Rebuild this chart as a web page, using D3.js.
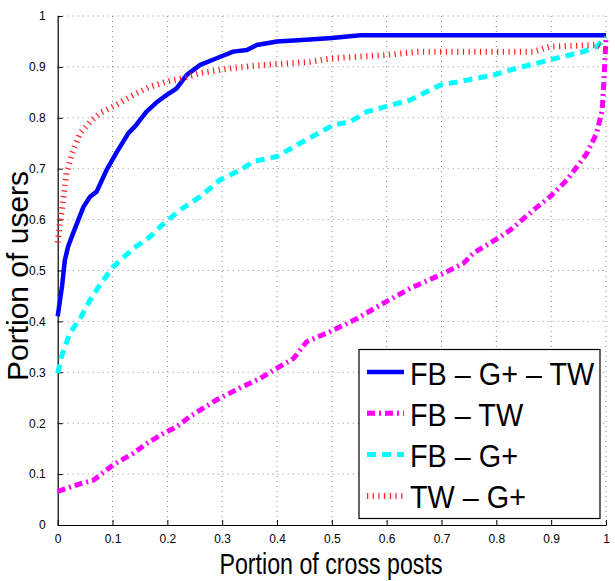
<!DOCTYPE html>
<html>
<head>
<meta charset="utf-8">
<script src="https://cdn.jsdelivr.net/npm/d3@7"></script>
<style>
  body { margin: 0; background: #fff; }
  text { font-family: "Liberation Sans", Arial, Helvetica, sans-serif; fill: #000; }
</style>
</head>
<body>
<div id="chart"></div>
<script>
// Series data: [portion of cross posts, portion of users]
var fbGpTw = [[0,0.41],[0.004,0.44],[0.008,0.47],[0.013,0.52],[0.019,0.547],[0.028,0.573],[0.047,0.625],
  [0.059,0.645],[0.071,0.655],[0.089,0.697],[0.108,0.733],[0.129,0.77],[0.141,0.783],[0.162,0.812],
  [0.18,0.83],[0.199,0.845],[0.217,0.858],[0.235,0.884],[0.26,0.904],[0.29,0.917],[0.32,0.93],
  [0.345,0.933],[0.363,0.943],[0.40,0.95],[0.46,0.954],[0.50,0.957],[0.552,0.962],[1.0,0.962]];

var fbTw = [[0,0.066],[0.016,0.072],[0.047,0.083],[0.065,0.088],[0.101,0.118],[0.138,0.141],[0.162,0.16],
  [0.193,0.18],[0.217,0.193],[0.241,0.213],[0.29,0.246],[0.332,0.269],[0.369,0.288],[0.40,0.308],
  [0.43,0.327],[0.454,0.36],[0.497,0.38],[0.545,0.405],[0.588,0.432],[0.643,0.465],[0.703,0.494],
  [0.74,0.514],[0.758,0.534],[0.807,0.566],[0.826,0.58],[0.868,0.619],[0.898,0.645],[0.929,0.678],
  [0.965,0.73],[0.983,0.77],[0.993,0.815],[0.996,0.868],[0.999,0.933],[1.0,0.958]];

var fbGp = [[0,0.298],[0.007,0.331],[0.022,0.377],[0.041,0.406],[0.059,0.442],[0.071,0.462],[0.083,0.481],
  [0.101,0.507],[0.138,0.543],[0.168,0.566],[0.187,0.586],[0.223,0.619],[0.26,0.645],[0.296,0.678],
  [0.332,0.697],[0.357,0.714],[0.40,0.724],[0.442,0.75],[0.503,0.786],[0.533,0.792],[0.564,0.812],
  [0.643,0.835],[0.697,0.864],[0.746,0.874],[0.795,0.884],[0.826,0.894],[0.898,0.914],[0.959,0.93],
  [0.983,0.94],[1.0,0.958]];

var twGp = [[0,0.555],[0.004,0.593],[0.01,0.638],[0.016,0.691],[0.026,0.73],[0.041,0.77],[0.059,0.792],
  [0.077,0.809],[0.101,0.822],[0.138,0.845],[0.168,0.861],[0.199,0.871],[0.229,0.878],[0.26,0.888],
  [0.32,0.898],[0.38,0.904],[0.46,0.91],[0.50,0.917],[0.594,0.923],[0.66,0.93],[0.868,0.93],
  [0.898,0.94],[0.983,0.943],[1.0,0.935]];

var seriesNames = ["FB \u2013 G+ \u2013 TW", "FB \u2013 TW", "FB \u2013 G+", "TW \u2013 G+"];
var xTicks = [0, 0.1, 0.2, 0.3, 0.4, 0.5, 0.6, 0.7, 0.8, 0.9, 1];
var yTicks = [0, 0.1, 0.2, 0.3, 0.4, 0.5, 0.6, 0.7, 0.8, 0.9, 1];

///////////  SVG  ///////////
var svgWidth = 615;
var svgHeight = 581;

var svgMargin = { top: 16, right: 9, bottom: 56, left: 57.7 };
var chartWidth = svgWidth - svgMargin.left - svgMargin.right;
var chartHeight = svgHeight - svgMargin.top - svgMargin.bottom;

var SVG = d3.select("#chart").append("svg")
  .attr("width", svgWidth)
  .attr("height", svgHeight);

var chartGrp = SVG.append("g")
  .attr("transform", `translate(${svgMargin.left}, ${svgMargin.top})`);

var xScale = d3.scaleLinear().domain([0, 1]).range([0, chartWidth]);
var yScale = d3.scaleLinear().domain([0, 1]).range([chartHeight, 0]);

// Dotted grid
chartGrp.append("g").selectAll("line").data(xTicks.slice(1)).enter().append("line")
  .attr("x1", d => xScale(d)).attr("x2", d => xScale(d))
  .attr("y1", 0).attr("y2", chartHeight)
  .attr("stroke", "#888").attr("stroke-width", 1).attr("stroke-dasharray", "1,4");

chartGrp.append("g").selectAll("line").data(yTicks.slice(1)).enter().append("line")
  .attr("y1", d => yScale(d)).attr("y2", d => yScale(d))
  .attr("x1", 0).attr("x2", chartWidth)
  .attr("stroke", "#888").attr("stroke-width", 1).attr("stroke-dasharray", "1,4");

// Axes (ticks pointing inward)
var bottomAxis = d3.axisBottom(xScale).tickValues(xTicks).tickFormat(d3.format("")).tickSizeInner(-5).tickSizeOuter(0).tickPadding(9);
var leftAxis = d3.axisLeft(yScale).tickValues(yTicks).tickFormat(d3.format("")).tickSizeInner(-5).tickSizeOuter(0).tickPadding(10);

var xAxis = chartGrp.append("g").attr("transform", `translate(0, ${chartHeight})`).call(bottomAxis);
var yAxis = chartGrp.append("g").call(leftAxis);

[xAxis, yAxis].forEach(function(ax) {
  ax.select(".domain").attr("stroke", "#000").attr("stroke-width", 1.2);
  ax.selectAll(".tick line").attr("stroke", "#000");
  ax.selectAll(".tick text").attr("font-size", "12px").attr("font-family", "Liberation Sans, Arial, sans-serif").attr("fill", "#000");
});
yAxis.selectAll(".tick text").attr("dx", "-2");

// Lines
var styles = [
  { data: fbGpTw, color: "#0000ff", width: 4.5, dash: null },
  { data: fbTw,   color: "#ff00ff", width: 5,   dash: "8,4,2,4" },
  { data: fbGp,   color: "#00ffff", width: 5,   dash: "9,6" },
  { data: twGp,   color: "#ff2020", width: 6,   dash: "1.2,4.5" }
];

var lineGen = d3.line().x(d => xScale(d[0])).y(d => yScale(d[1]));

chartGrp.append("g").selectAll("path").data(styles).enter().append("path")
  .attr("d", d => lineGen(d.data))
  .attr("fill", "none")
  .attr("stroke", d => d.color)
  .attr("stroke-width", d => d.width)
  .attr("stroke-dasharray", d => d.dash)
  .attr("stroke-linejoin", "round");

// Legend
var legendGrp = SVG.append("g").attr("transform", "translate(359, 349.5)");
legendGrp.append("rect")
  .attr("width", 241).attr("height", 169)
  .attr("fill", "#fff").attr("stroke", "#000").attr("stroke-width", 1.2);

var rows = legendGrp.selectAll(".row").data(styles).enter().append("g")
  .attr("transform", (d, i) => `translate(0, ${22.5 + i * 41.3})`);

rows.append("line")
  .attr("x1", 8).attr("x2", 45).attr("y1", 0).attr("y2", 0)
  .attr("stroke", d => d.color)
  .attr("stroke-width", d => d.width)
  .attr("stroke-dasharray", d => d.dash);

rows.append("text")
  .attr("transform", "translate(51, 12.5) scale(0.9, 1)")
  .attr("font-size", "32px")
  .text((d, i) => seriesNames[i]);

// Axis labels
SVG.append("text")
  .attr("transform", `translate(331, 574) scale(0.8, 1)`)
  .attr("text-anchor", "middle")
  .attr("font-size", "29px")
  .text("Portion of cross posts");

SVG.append("text")
  .attr("transform", "translate(28, 276) rotate(-90)")
  .attr("text-anchor", "middle")
  .attr("font-size", "30px")
  .text("Portion of users");
</script>
</body>
</html>
